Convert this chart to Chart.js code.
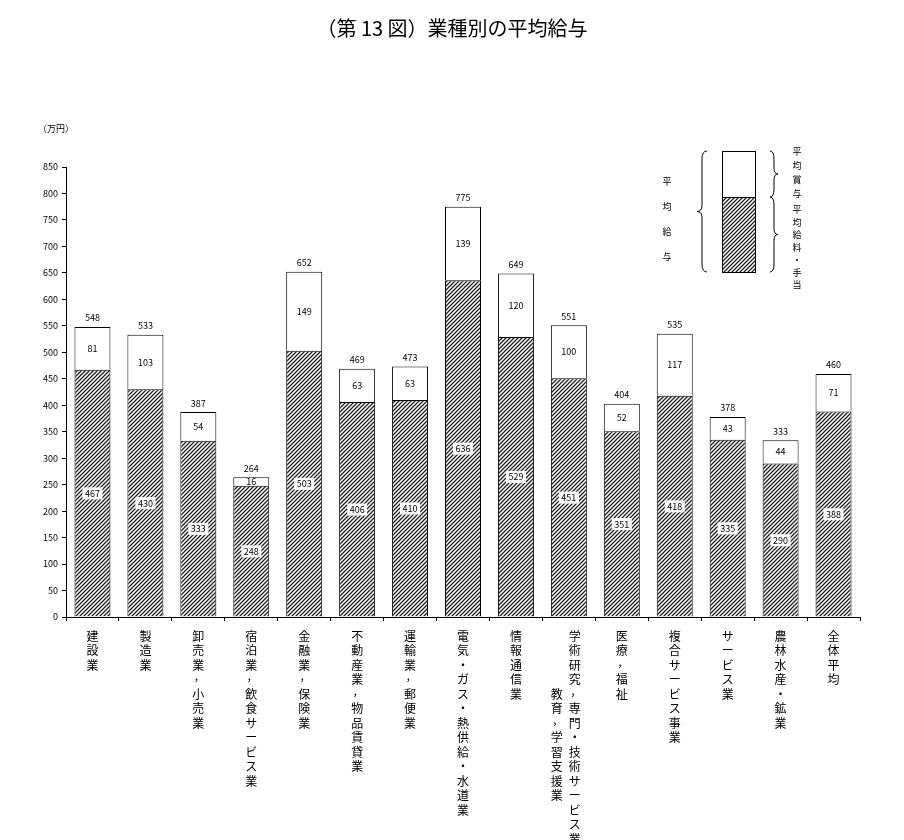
<!DOCTYPE html>
<html><head><meta charset="utf-8">
<script src="https://cdn.jsdelivr.net/npm/chart.js@4.4.0/dist/chart.umd.min.js"></script>
<style>body{margin:0;background:#fff}#w{width:904px;height:840px;position:relative}</style>
</head><body><div id="w"><canvas id="c" width="904" height="840"></canvas></div>
<script>
const categories = [["建設業"],["製造業"],["卸売業，小売業"],["宿泊業，飲食サービス業"],["金融業，保険業"],["不動産業，物品賃貸業"],["運輸業，郵便業"],["電気・ガス・熱供給・水道業"],["情報通信業"],["学術研究，専門・技術サービス業，","教育，学習支援業"],["医療，福祉"],["複合サービス事業"],["サービス業"],["農林水産・鉱業"],["全体平均"]];
const baseSalary = [467,430,333,248,503,406,410,636,529,451,351,418,335,290,388];
const bonus = [81,103,54,16,149,63,63,139,120,100,52,117,43,44,71];
const totals = [548,533,387,264,652,469,473,775,649,551,404,535,378,333,460];

const FONT = '"Noto Sans CJK JP", sans-serif';
const ctx0 = document.getElementById('c').getContext('2d');
function hatch(){
  const p=document.createElement('canvas');p.width=4;p.height=4;
  const g=p.getContext('2d');g.fillStyle='#fff';g.fillRect(0,0,4,4);
  g.strokeStyle='#222';g.lineWidth=1.3;
  g.beginPath();g.moveTo(0,4);g.lineTo(4,0);g.moveTo(-1,1);g.lineTo(1,-1);g.moveTo(3,5);g.lineTo(5,3);g.stroke();
  return ctx0.createPattern(p,'repeat');
}
const pat = hatch();

function brace(c,x,y1,y2,dir,w){ // dir=-1 tip left, +1 tip right; x = where ends curl
  const m=(y1+y2)/2, s=x+dir*w, t=x+dir*2*w;
  c.beginPath();
  c.moveTo(x,y1);
  c.quadraticCurveTo(s,y1,s,y1+8);
  c.lineTo(s,m-6);
  c.quadraticCurveTo(s,m,t,m);
  c.quadraticCurveTo(s,m,s,m+6);
  c.lineTo(s,y2-8);
  c.quadraticCurveTo(s,y2,x,y2);
  c.stroke();
}
function vtext(c,str,x,y,step){for(let i=0;i<str.length;i++){let ch=str[i];let yy=y+i*step;if(ch==='，'){c.fillText(',',x-2,yy-4);}else c.fillText(ch,x,yy);}}

const plug={id:'deco',afterDatasetsDraw(ch){
  const c=ch.ctx,x=ch.scales.x,y=ch.scales.y;
  c.save();c.textAlign='center';c.textBaseline='middle';c.fillStyle='#000';
  c.font='9px '+FONT;
  for(let i=0;i<totals.length;i++){
    const px=x.getPixelForValue(i);
    c.fillText(totals[i],px,y.getPixelForValue(baseSalary[i]+bonus[i])-9);
    c.fillText(bonus[i],px,y.getPixelForValue(baseSalary[i]+bonus[i]/2));
    const by=y.getPixelForValue(baseSalary[i]/2);
    c.fillStyle='#fff';c.fillRect(px-10,by-6,20,12);c.fillStyle='#000';
    c.fillText(baseSalary[i],px,by);
    c.font='12px '+FONT;
    const lines=categories[i];
    if(lines.length===1) vtext(c,lines[0],px,636,14.5);
    else {vtext(c,lines[0],px+6,636,14.5);vtext(c,lines[1],px-12,694,14.5);}
    c.font='9px '+FONT;
  }
  c.font='9px '+FONT;c.fillText('（万円）',56,129);
  c.font='20px '+FONT;c.fillText('（第 13 図）業種別の平均給与',452,28);
  c.strokeStyle='#000';c.lineWidth=1;
  c.fillStyle='#fff';c.fillRect(722,151,33,46);c.strokeRect(722.5,151.5,33,46);
  c.fillStyle=pat;c.fillRect(722,197,33,75);c.strokeRect(722.5,197.5,33,75);
  brace(c,707,151,272,-1,5);
  brace(c,770,151,197,1,4);
  brace(c,770,197,272,1,4);
  c.fillStyle='#000';c.font='9px '+FONT;
  vtext(c,'平均給与',667,182,25);
  vtext(c,'平均賞与',797,152,14);
  vtext(c,'平均給料・手当',797,210,12.5);
  c.restore();
}};

new Chart(ctx0,{type:'bar',
 data:{labels:categories.map(a=>a.join('')),datasets:[
  {data:baseSalary,backgroundColor:pat,borderColor:'#000',borderWidth:1,barPercentage:0.68,categoryPercentage:1},
  {data:bonus,backgroundColor:'#fff',borderColor:'#000',borderWidth:1,barPercentage:0.68,categoryPercentage:1}]},
 options:{responsive:false,animation:false,devicePixelRatio:1,
  layout:{padding:{top:167,bottom:219,left:0,right:44}},
  plugins:{legend:{display:false},tooltip:{enabled:false}},
  scales:{
   x:{stacked:true,ticks:{display:false},grid:{drawOnChartArea:false,offset:true,tickLength:4,color:'#000'},border:{color:'#000'}},
   y:{stacked:true,min:0,max:850,afterFit(s){s.width=66;},
      ticks:{stepSize:50,color:'#000',font:{size:9,family:FONT},padding:4},
      grid:{drawOnChartArea:false,tickLength:4,color:'#000'},border:{color:'#000'}}
  }},
 plugins:[plug]});
</script></body></html>
